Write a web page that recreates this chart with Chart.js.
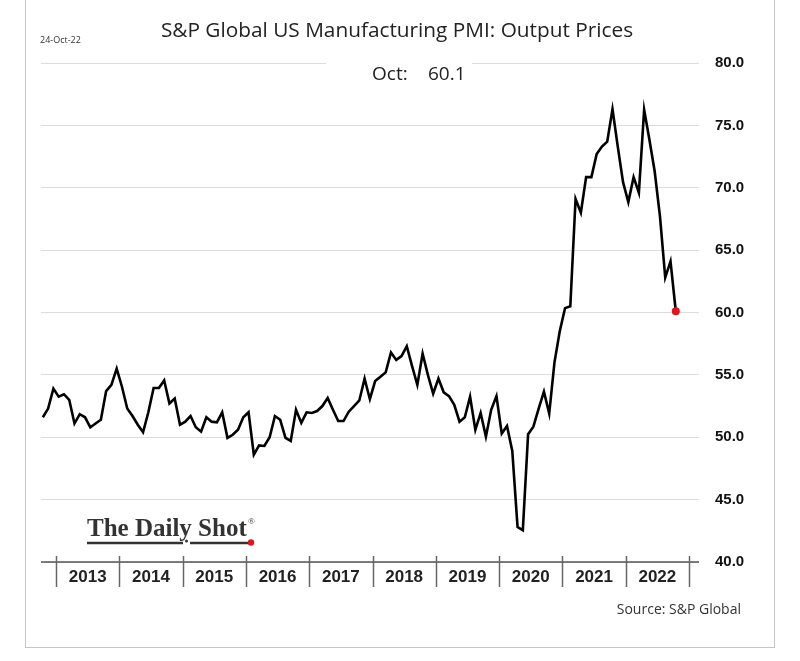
<!DOCTYPE html>
<html><head><meta charset="utf-8">
<script src="https://cdn.jsdelivr.net/npm/chart.js@4.4.1/dist/chart.umd.min.js"></script>
<style>html,body{margin:0;padding:0;background:#fff;}canvas{display:block}</style>
</head><body>
<canvas id="c" width="800" height="661"></canvas>
<script>
// ---- data ----
const startYear = 2012, startMonth = 10;   // first observation: Oct 2012 (monthly)
const values = [
  51.6, 52.3, 53.9,                                                   // 2012 Oct-Dec
  53.25, 53.45, 53.0, 51.1, 51.85, 51.6, 50.8, 51.1, 51.4, 53.7, 54.2, 55.5,   // 2013
  54.05, 52.3, 51.7, 51.0, 50.4, 52.0, 53.95, 53.95, 54.55, 52.7, 53.1, 51.0,  // 2014
  51.25, 51.7, 50.8, 50.45, 51.6, 51.25, 51.2, 52.0, 49.95, 50.2, 50.6, 51.6,  // 2015
  52.0, 48.6, 49.35, 49.3, 50.0, 51.7, 51.4, 49.95, 49.7, 52.2, 51.15, 52.0,   // 2016
  51.95, 52.1, 52.5, 53.15, 52.2, 51.3, 51.3, 52.05, 52.5, 52.95, 54.7, 53.05, // 2017
  54.5, 54.85, 55.2, 56.8, 56.2, 56.5, 57.3, 55.7, 54.2, 56.7, 55.0, 53.5,     // 2018
  54.7, 53.6, 53.3, 52.6, 51.25, 51.6, 53.25, 50.6, 51.95, 50.05, 52.2, 53.3,  // 2019
  50.3, 50.9, 48.9, 42.8, 42.55, 50.25, 50.85, 52.3, 53.65, 51.9, 56.0, 58.5,  // 2020
  60.35, 60.5, 69.1, 68.0, 70.85, 70.85, 72.7, 73.3, 73.7, 76.3, 73.3, 70.45,  // 2021
  68.85, 70.85, 69.6, 76.25, 73.85, 71.3, 67.7, 62.8, 64.1, 60.1               // 2022 Jan-Oct
];
const years = ['2013','2014','2015','2016','2017','2018','2019','2020','2021','2022'];
const yTicks = [40, 45, 50, 55, 60, 65, 70, 75, 80];
const titleText = 'S&P Global US Manufacturing PMI: Output Prices';
const dateText = '24-Oct-22';
const latestMonth = 'Oct:';
const latestValue = '60.1';
const sourceText = 'Source: S&P Global';

// month offset from Jan 2013, plotted mid-month
const firstOffset = (startYear - 2013) * 12 + (startMonth - 1);
const points = values.map((v, i) => ({ x: firstOffset + i + 0.5, y: v }));
const lastIdx = values.length - 1;

const deco = {
  id: 'deco',
  beforeDatasetsDraw(chart) {
    const ctx = chart.ctx;
    ctx.save();
    // white box behind latest-value text (interrupts top gridline)
    ctx.fillStyle = '#fff';
    ctx.fillRect(326, 52, 146, 36);
    ctx.fillStyle = '#222';
    ctx.font = '19px "Open Sans"';
    ctx.textBaseline = 'middle';
    ctx.textAlign = 'left';
    ctx.fillText(latestMonth, 372, 75);
    ctx.fillText(latestValue, 428, 75);
    ctx.restore();
  },
  afterDraw(chart) {
    const ctx = chart.ctx;
    const xs = chart.scales.x, ys = chart.scales.y;
    const ca = chart.chartArea;
    ctx.save();
    // outer frame
    ctx.strokeStyle = '#c6c6c6';
    ctx.lineWidth = 1;
    ctx.strokeRect(25.5, -2, 749, 649.5);
    // axis line
    const yb = ys.getPixelForValue(40);
    ctx.strokeStyle = '#555';
    ctx.lineWidth = 1.5;
    ctx.beginPath();
    ctx.moveTo(ca.left, yb); ctx.lineTo(ca.right, yb);
    ctx.stroke();
    // year separators
    ctx.strokeStyle = '#666';
    ctx.lineWidth = 1.5;
    for (let k = 0; k <= years.length; k++) {
      const x = Math.round(xs.getPixelForValue(12 * k)) + 0.5;
      ctx.beginPath();
      ctx.moveTo(x, yb - 6); ctx.lineTo(x, yb + 25);
      ctx.stroke();
    }
    // title + date
    ctx.fillStyle = '#222';
    ctx.textBaseline = 'middle';
    ctx.textAlign = 'center';
    ctx.font = '20.8px "Open Sans"';
    ctx.fillText(titleText, 397, 31);
    ctx.textAlign = 'left';
    ctx.font = '9px "Open Sans"';
    ctx.fillStyle = '#333';
    ctx.fillText(dateText, 40, 40);
    // source
    ctx.font = '14px "Open Sans"';
    ctx.fillStyle = '#333';
    ctx.textAlign = 'right';
    ctx.fillText(sourceText, 741, 610);
    // logo
    ctx.textAlign = 'left';
    ctx.textBaseline = 'alphabetic';
    ctx.fillStyle = '#333';
    ctx.font = 'bold 25px "Liberation Serif"';
    ctx.fillText('The Daily Shot', 87, 536);
    ctx.font = '9px "Liberation Serif"';
    ctx.fillText('\u00AE', 248, 524);
    ctx.strokeStyle = '#333';
    ctx.lineWidth = 2.5;
    ctx.beginPath();
    ctx.moveTo(87, 543); ctx.lineTo(183, 543);
    ctx.moveTo(190, 543); ctx.lineTo(249, 543);
    ctx.stroke();
    ctx.fillStyle = '#333';
    ctx.beginPath(); ctx.arc(186.5, 541, 1.5, 0, Math.PI * 2); ctx.fill();
    ctx.fillStyle = '#e3121b';
    ctx.beginPath(); ctx.arc(251, 542.5, 3.2, 0, Math.PI * 2); ctx.fill();
    ctx.restore();
  }
};

new Chart(document.getElementById('c'), {
  type: 'line',
  data: {
    datasets: [{
      data: points,
      borderColor: '#000',
      borderWidth: 2.6,
      tension: 0,
      pointRadius: values.map((_, i) => i === lastIdx ? 4 : 0),
      pointBackgroundColor: '#e3121b',
      pointBorderColor: '#e3121b',
      pointBorderWidth: 0,
      clip: false
    }]
  },
  options: {
    responsive: false,
    animation: false,
    devicePixelRatio: 1,
    layout: { padding: { left: 41, top: 63, right: 0, bottom: 0 } },
    plugins: { legend: { display: false }, tooltip: { enabled: false }, title: { display: false } },
    scales: {
      x: {
        type: 'linear',
        min: -2.85,
        max: 121.9,
        grid: { display: false, drawTicks: false },
        border: { display: false },
        afterBuildTicks(scale) { scale.ticks = years.map((_, k) => ({ value: 12 * k + 6 })); },
        afterFit(scale) { scale.height = 99; },
        ticks: {
          autoSkip: false, maxRotation: 0, minRotation: 0, padding: 5,
          color: '#222',
          font: { family: '"Liberation Sans"', size: 17, weight: 'bold' },
          callback: (v, i) => years[i]
        }
      },
      y: {
        position: 'right',
        min: 40, max: 80,
        afterBuildTicks(scale) { scale.ticks = yTicks.map(v => ({ value: v })); },
        afterFit(scale) { scale.width = 101; },
        grid: { color: '#dcdcdc', lineWidth: 1, drawTicks: false },
        border: { display: false },
        ticks: {
          padding: 16, color: '#111',
          font: { family: '"Liberation Sans"', size: 15, weight: 'bold' },
          callback: v => v.toFixed(1)
        }
      }
    }
  },
  plugins: [deco]
});
</script>
</body></html>
